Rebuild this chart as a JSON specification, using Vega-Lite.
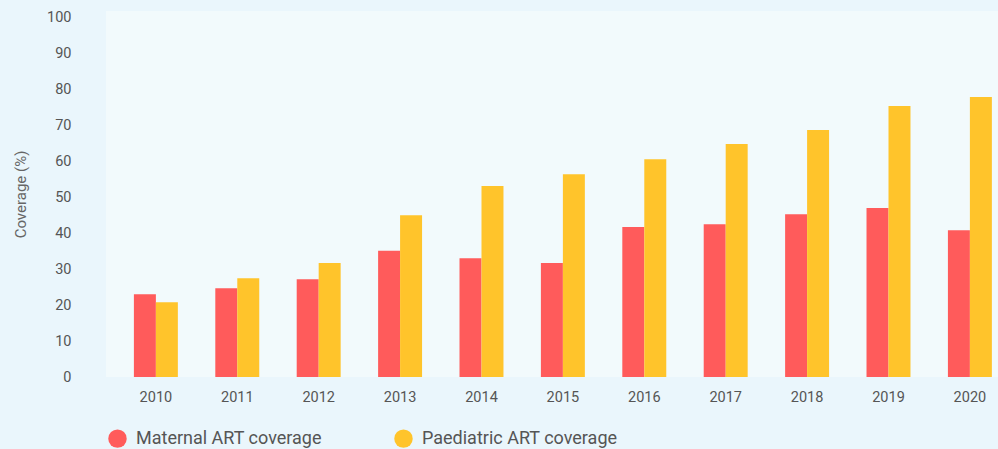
{
  "$schema": "https://vega.github.io/schema/vega-lite/v6.json",
  "autosize": {"type": "none"},
  "width": 892,
  "height": 366,
  "padding": {"left": 106, "top": 11, "right": 0, "bottom": 72},
  "background": "#EAF6FC",
  "config": {
    "view": {"fill": "#F2FAFC", "stroke": null},
    "font": "Roboto"
  },
  "data": {
    "values": [
      {"year": "2010", "series": "Maternal ART coverage", "value": 23.0},
      {"year": "2010", "series": "Paediatric ART coverage", "value": 20.8},
      {"year": "2011", "series": "Maternal ART coverage", "value": 24.7},
      {"year": "2011", "series": "Paediatric ART coverage", "value": 27.5},
      {"year": "2012", "series": "Maternal ART coverage", "value": 27.2},
      {"year": "2012", "series": "Paediatric ART coverage", "value": 31.7},
      {"year": "2013", "series": "Maternal ART coverage", "value": 35.1},
      {"year": "2013", "series": "Paediatric ART coverage", "value": 45.0},
      {"year": "2014", "series": "Maternal ART coverage", "value": 33.0},
      {"year": "2014", "series": "Paediatric ART coverage", "value": 53.1},
      {"year": "2015", "series": "Maternal ART coverage", "value": 31.7},
      {"year": "2015", "series": "Paediatric ART coverage", "value": 56.4},
      {"year": "2016", "series": "Maternal ART coverage", "value": 41.7},
      {"year": "2016", "series": "Paediatric ART coverage", "value": 60.6},
      {"year": "2017", "series": "Maternal ART coverage", "value": 42.5},
      {"year": "2017", "series": "Paediatric ART coverage", "value": 64.8},
      {"year": "2018", "series": "Maternal ART coverage", "value": 45.3},
      {"year": "2018", "series": "Paediatric ART coverage", "value": 68.7},
      {"year": "2019", "series": "Maternal ART coverage", "value": 47.0},
      {"year": "2019", "series": "Paediatric ART coverage", "value": 75.4},
      {"year": "2020", "series": "Maternal ART coverage", "value": 40.8},
      {"year": "2020", "series": "Paediatric ART coverage", "value": 77.9}
    ]
  },
  "mark": {"type": "bar"},
  "encoding": {
    "x": {
      "field": "year",
      "type": "nominal",
      "scale": {"paddingInner": 0.46, "paddingOuter": 0.209, "align": 0.82},
      "axis": {
        "title": null,
        "labelAngle": 0,
        "ticks": false,
        "domain": false,
        "labelPadding": 13,
        "labelFontSize": 14.5,
        "labelColor": "#555555",
        "labelFontWeight": 400
      }
    },
    "xOffset": {"field": "series", "type": "nominal", "sort": ["Maternal ART coverage", "Paediatric ART coverage"]},
    "y": {
      "field": "value",
      "type": "quantitative",
      "scale": {"domain": [0, 101.8], "nice": false},
      "axis": {
        "title": "Coverage (%)",
        "values": [0, 10, 20, 30, 40, 50, 60, 70, 80, 90, 100],
        "grid": false,
        "ticks": false,
        "domain": false,
        "labelPadding": 35,
        "labelFontSize": 14.5,
        "labelColor": "#555555",
        "labelFontWeight": 400,
        "titleFontSize": 15,
        "titleFontWeight": 400,
        "titleColor": "#666666",
        "titlePadding": 18
      }
    },
    "color": {
      "field": "series",
      "type": "nominal",
      "scale": {
        "domain": ["Maternal ART coverage", "Paediatric ART coverage"],
        "range": ["#FF5B5B", "#FFC42B"]
      },
      "legend": {
        "title": null,
        "orient": "none",
        "direction": "horizontal",
        "legendX": 2,
        "legendY": 418,
        "padding": 0,
        "symbolType": "circle",
        "symbolSize": 340,
        "symbolOpacity": 1,
        "symbolStrokeWidth": 0,
        "labelFontSize": 18,
        "labelFontWeight": 400,
        "labelColor": "#555555",
        "labelOffset": 9,
        "columnPadding": 72,
        "labelLimit": 400
      }
    }
  }
}
